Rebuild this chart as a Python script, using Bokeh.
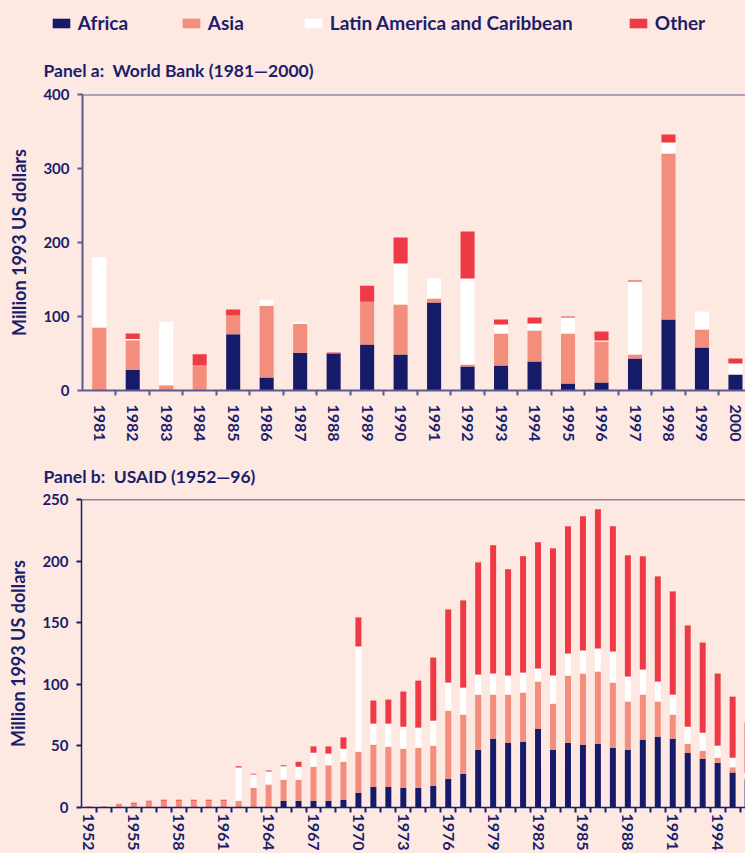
from bokeh.plotting import figure
from bokeh.models import (ColumnDataSource, FixedTicker, Legend, LegendItem,
                          Label, Span, Range1d)
from bokeh.layouts import column
from bokeh.embed import file_html
from bokeh.resources import INLINE

# ---------------- data ----------------
series = ["Africa", "Asia", "Latin America and Caribbean", "Other"]

years_a = list(range(1981, 2001))
africa_a = [0, 28, 0, 0, 76, 17.5, 51, 50, 62, 48.6, 119, 32.4, 33.8, 39.2, 9.5, 10.8, 43.2, 95.9, 58, 21.6]
asia_a = [85, 40, 7, 34, 25.5, 97, 39, 0, 58, 67.6, 5.4, 2.7, 43.2, 41.9, 67.5, 55.4, 5.4, 224.3, 24.3, 0]
latam_a = [95, 1.5, 86, 0, 0, 8, 3, 0, 0, 55.4, 27, 116.3, 12.2, 9.5, 21.6, 1.4, 98.6, 14.9, 24.3, 14.9]
other_a = [0, 7.5, 0, 15, 8, 0, 0, 1.5, 21.6, 35.1, 0, 63.5, 6.8, 8.1, 1.4, 12.2, 1.4, 10.8, 0, 6.8]

years_b = list(range(1952, 1997))
africa_b = [0, 0, 0, 0, 0, 0, 0, 0, 0, 0, 0, 0, 0,
            5.4, 5.4, 5.4, 5.4, 6.2, 11.9, 16.8, 16.8, 16, 16, 17.6, 23.3, 27.4,
            46.9, 55.9, 52.6, 53.4, 64, 46.9, 52.6, 51, 51.8, 48.5, 46.9, 55.1,
            57.5, 55.9, 44.5, 39.6, 36.3, 28.4, 22.5]
asia_b = [1.1, 1.0, 3.0, 3.0, 4.9, 5.4, 5.4, 5.4, 5.4, 5.4, 5.4, 16.0, 18.7,
          17.1, 17.1, 27.7, 28.8, 30.9, 33.4, 34.2, 32.5, 31.7, 32.5, 32.6, 55.3,
          48.0, 44.7, 35.7, 39.0, 39.9, 38.2, 37.4, 54.5, 57.7, 58.6, 52.9, 39.1,
          36.5, 28.5, 19.5, 7.3, 6.5, 4.1, 4.2, 1.5]
latam_b = [0, 0, 0, 0, 0, 0, 0, 0, 0, 0, 27.1, 10.8, 10.6,
           10.9, 10.6, 11.4, 9.5, 10.6, 85.4, 17.1, 18.8, 17.9, 16.3, 20.3, 22.8,
           21.9, 16.3, 17.1, 15.5, 16.2, 10.6, 22.8, 17.9, 18.7, 18.7, 25.2, 20.3,
           20.4, 16.2, 16.2, 13.8, 14.6, 9.8, 7.8, 4.0]
other_b = [0, 0, 0, 0.8, 0.5, 0.8, 0.8, 0.8, 0.8, 0.8, 0.9, 0.6, 0.8,
           0.8, 4.0, 5.1, 5.9, 9.2, 23.6, 18.7, 19.5, 28.5, 38.2, 51.2, 59.4,
           70.8, 91.1, 104.2, 86.3, 94.5, 102.5, 103.3, 103.3, 109.0, 113.0, 101.7,
           98.4, 91.9, 85.4, 83.8, 82.2, 73.2, 58.5, 49.6, 41.0]

yticks_a = [0, 100, 200, 300, 400]
yticks_b = [0, 50, 100, 150, 200, 250]
xlabels_b = years_b[::3]

# ---------------- style ----------------
BG = "#fde9e2"
NAVY = "#151b69"
SALMON = "#f28e7b"
WHITE = "#ffffff"
RED = "#ee3a44"
TXT = "#1b1e6b"
AX_A = "#5a5a8e"
AX_B = "#1b1e6b"
FONT = "Lato"
colors = [NAVY, SALMON, WHITE, RED]
keys = ["africa", "asia", "latam", "other"]
W = 745


def style_axes(p, axcol, axw, xticks, xminor, yticks, xlab_standoff):
    p.grid.visible = False
    p.outline_line_color = None
    p.background_fill_color = BG
    p.border_fill_color = BG
    xa = p.xaxis[0]
    xa.ticker = FixedTicker(ticks=xticks, minor_ticks=xminor)
    xa.major_label_orientation = "vertical"
    xa.major_tick_line_color = None
    xa.major_tick_out = 0
    xa.major_tick_in = 0
    xa.minor_tick_line_color = axcol
    xa.minor_tick_line_width = 2
    xa.minor_tick_out = 5
    xa.minor_tick_in = 0
    xa.axis_line_color = axcol
    xa.axis_line_width = axw
    xa.major_label_text_font = FONT
    xa.major_label_text_font_style = "bold"
    xa.major_label_text_font_size = "16px"
    xa.major_label_text_color = TXT
    xa.major_label_standoff = xlab_standoff
    ya = p.yaxis[0]
    ya.ticker = FixedTicker(ticks=yticks)
    ya.minor_tick_line_color = None
    ya.major_tick_line_color = axcol
    ya.major_tick_line_width = 2
    ya.major_tick_out = 5
    ya.major_tick_in = 0
    ya.axis_line_color = axcol
    ya.axis_line_width = axw
    ya.major_label_text_font = FONT
    ya.major_label_text_font_style = "bold"
    ya.major_label_text_font_size = "15px"
    ya.major_label_text_color = TXT
    ya.major_label_standoff = 8
    ya.axis_label = "Million 1993 US dollars"
    ya.axis_label_text_font = FONT
    ya.axis_label_text_font_style = "bold"
    ya.axis_label_text_font_size = "18px"
    ya.axis_label_text_color = TXT
    ya.axis_label_standoff = 10


def header(height):
    h = figure(width=W, height=height, output_backend="svg", toolbar_location=None,
               x_range=Range1d(0, W), y_range=Range1d(0, height),
               x_axis_type=None, y_axis_type=None, min_border=0, frame_align=False)
    h.grid.visible = False
    h.outline_line_color = None
    h.background_fill_color = BG
    h.border_fill_color = BG
    return h


# ---------------- header with legend + panel a title ----------------
HA = 82
ha = header(HA)
# zero-size legend proxies (nothing visible is drawn by them)
proxies = [ha.vbar(x=[0], top=[0], width=0, fill_color=c, line_color=None) for c in colors]
legend_x = [52, 182, 304, 629]
for r, name, lx in zip(proxies, series, legend_x):
    lg = Legend(items=[LegendItem(label=name, renderers=[r])],
                location=(lx - 2.2, HA - 34), orientation="horizontal",
                padding=0, margin=0, spacing=0, border_line_color=None,
                background_fill_alpha=0, glyph_width=22, glyph_height=12,
                label_standoff=6, label_height=12,
                label_text_font=FONT, label_text_font_style="bold",
                label_text_font_size="19px", label_text_color=TXT)
    ha.add_layout(lg)
ha.add_layout(Label(x=43, y=HA - 70, text="Panel a:\u00a0 World Bank (1981\u20142000)",
                    text_font=FONT, text_font_style="bold", text_font_size="17.5px",
                    text_color=TXT, text_baseline="alphabetic"))

# ---------------- panel a ----------------
src_a = ColumnDataSource(dict(year=years_a, africa=africa_a, asia=asia_a,
                              latam=latam_a, other=other_a))
pa = figure(width=W, height=363, output_backend="svg", toolbar_location=None,
            x_range=Range1d(1980.5, 2000.3), y_range=Range1d(0, 400),
            min_border_left=82, min_border_right=0, min_border_top=12,
            min_border_bottom=55, frame_align=False)
pa.vbar_stack(keys, x="year", width=0.42, fill_color=colors,
              line_color=None, source=src_a)
style_axes(pa, AX_A, 2, years_a, [y + 0.5 for y in years_a[:-1]], yticks_a, 9)
pa.add_layout(Span(location=400, dimension="width", line_color=AX_A, line_width=2))

# ---------------- header with panel b title ----------------
HB = 42
hb = header(HB)
hb.add_layout(Label(x=43, y=HB - 31, text="Panel b:\u00a0 USAID (1952\u201496)",
                    text_font=FONT, text_font_style="bold", text_font_size="17.5px",
                    text_color=TXT, text_baseline="alphabetic"))

# ---------------- panel b ----------------
src_b = ColumnDataSource(dict(year=years_b, africa=africa_b, asia=asia_b,
                              latam=latam_b, other=other_b))
pb = figure(width=W, height=366, output_backend="svg", toolbar_location=None,
            x_range=Range1d(1951.5, 1995.86), y_range=Range1d(0, 250),
            min_border_left=81, min_border_right=0, min_border_top=12,
            min_border_bottom=46, frame_align=False)
pb.vbar_stack(keys, x="year", width=0.4, fill_color=colors,
              line_color=None, source=src_b)
style_axes(pb, AX_B, 1.5, xlabels_b, [y + 0.5 for y in years_b[:-1]], yticks_b, 1)
pb.add_layout(Span(location=250, dimension="width", line_color=AX_B, line_width=1.5))

layout = column(ha, pa, hb, pb, spacing=0)
html = file_html(layout, INLINE, title="World Bank and USAID")
i = html.rfind("</head>")
if i != -1:
    html = html[:i] + "<style>html,body{background:#fde9e2;}</style>" + html[i:]
open("out.html", "w").write(html)
